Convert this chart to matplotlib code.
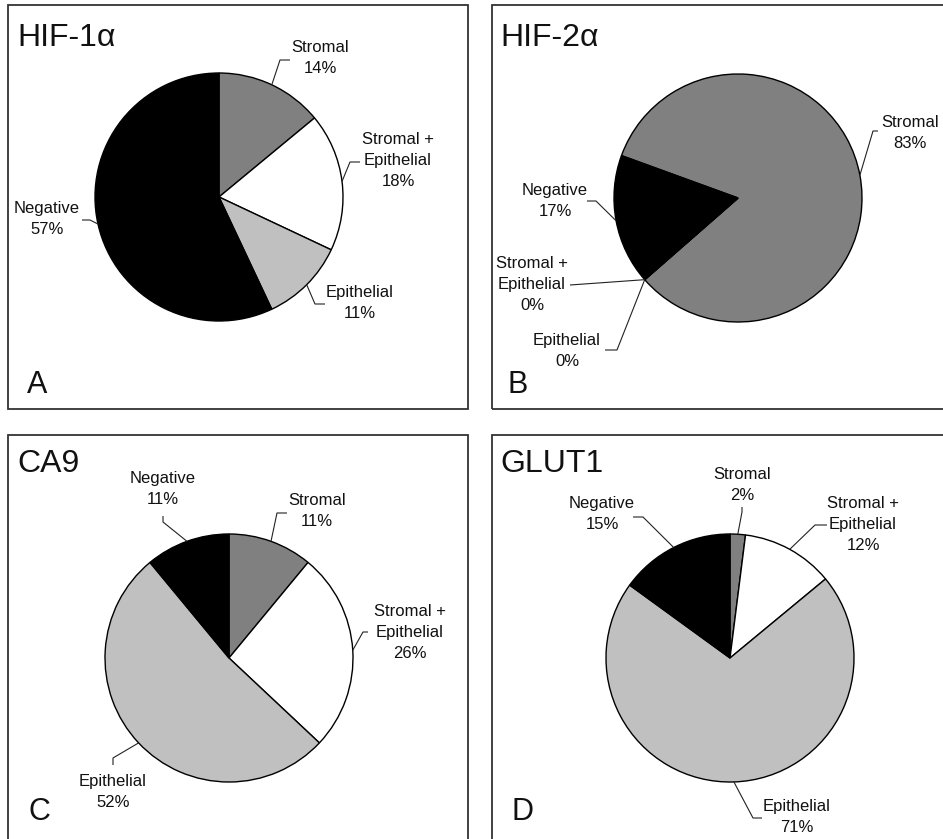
import matplotlib
matplotlib.use("Agg")
import matplotlib.pyplot as plt
from matplotlib.patches import Rectangle
import numpy as np

plt.rcParams['font.family'] = ['Liberation Sans', 'DejaVu Sans']

# ─── data ───
categories = ["Stromal", "Stromal +\nEpithelial", "Epithelial", "Negative"]
hif1a = [14, 18, 11, 57]
hif2a = [83, 0, 0, 17]
ca9 = [11, 26, 52, 11]
glut1 = [2, 12, 71, 15]
titles = ["HIF-1\u03b1", "HIF-2\u03b1", "CA9", "GLUT1"]
letters = ["A", "B", "C", "D"]
colors = ["#808080", "#ffffff", "#c0c0c0", "#000000"]

W, H = 943, 839

# ─── layout (pixel coords, y downwards) ───
panels = [
    dict(values=hif1a, center=(219, 197), start=90, box=(8, 5, 468, 409),
         title=(17, 46), letter=(27, 393),
         leaders=[[(280, 60), (290, 60)], [(350, 162), (360, 162)],
                  [(315, 304), (325, 304)], [(90, 220), (82, 220)]],
         text=[(320, 58), (398, 161), (360, 303), (47, 219)]),
    dict(values=hif2a, center=(738, 198), start=160, box=(492, 5, 980, 409),
         title=(500, 46), letter=(507, 393),
         leaders=[[(873, 131), (878, 131)], [(570, 285)],
                  [(617, 350), (605, 350)], [(596, 201), (587, 201)]],
         text=[(910, 133), (532, 284), (567, 351), (555, 201)]),
    dict(values=ca9, center=(229, 658), start=90, box=(8, 435, 468, 880),
         title=(17, 472), letter=(28, 820),
         leaders=[[(277, 513), (287, 513)], [(363, 632), (368, 632)],
                  [(113, 758), (113, 765)], [(163, 522), (163, 516)]],
         text=[(317, 511), (410, 632), (113, 792), (163, 489)]),
    dict(values=glut1, center=(730, 658), start=90, box=(492, 435, 980, 880),
         title=(500, 472), letter=(512, 820),
         leaders=[[(742, 512), (742, 507)], [(815, 525), (827, 525)],
                  [(753, 818), (762, 818)], [(643, 517), (633, 517)]],
         text=[(742, 485), (863, 525), (797, 817), (602, 514)]),
]
R = 124

fig = plt.figure(figsize=(W / 100, H / 100), dpi=100)
ax = fig.add_axes([0, 0, 1, 1])
ax.set_xlim(0, W)
ax.set_ylim(0, H)
ax.set_aspect("equal")
ax.axis("off")


def fy(y):
    return H - y


for i, p in enumerate(panels):
    x0, y0, x1, y1 = p["box"]
    ax.add_patch(Rectangle((x0, fy(y1)), x1 - x0, y1 - y0, fill=False,
                           edgecolor="#333333", lw=1.3))
    cx, cy = p["center"]
    vals = p["values"]
    wedges, _ = ax.pie(vals, colors=colors, startangle=p["start"], counterclock=False,
                       center=(cx, fy(cy)), radius=R, normalize=True,
                       wedgeprops=dict(edgecolor="black", linewidth=1.0))
    ax.set_xlim(0, W)
    ax.set_ylim(0, H)

    # labels + leader lines
    total = float(sum(vals))
    acc = 0.0
    for j, v in enumerate(vals):
        mid = np.deg2rad(p["start"] - (acc + v / 2.0) / total * 360.0)
        acc += v
        sx, sy = cx + R * np.cos(mid), fy(cy) + R * np.sin(mid)
        xs = [sx] + [q[0] for q in p["leaders"][j]]
        ys = [sy] + [fy(q[1]) for q in p["leaders"][j]]
        ax.plot(xs, ys, color="#222222", lw=0.8, solid_capstyle="butt")
        tx, ty = p["text"][j]
        ax.text(tx, fy(ty), f"{categories[j]}\n{v}%", ha="center", va="center",
                fontsize=12, linespacing=1.5, color="#111111")

    ax.text(p["title"][0], fy(p["title"][1]), titles[i], fontsize=23,
            ha="left", va="baseline", color="#111111")
    ax.text(p["letter"][0], fy(p["letter"][1]), letters[i], fontsize=22,
            ha="left", va="baseline", color="#111111")

fig.savefig("out.png", dpi=100)
